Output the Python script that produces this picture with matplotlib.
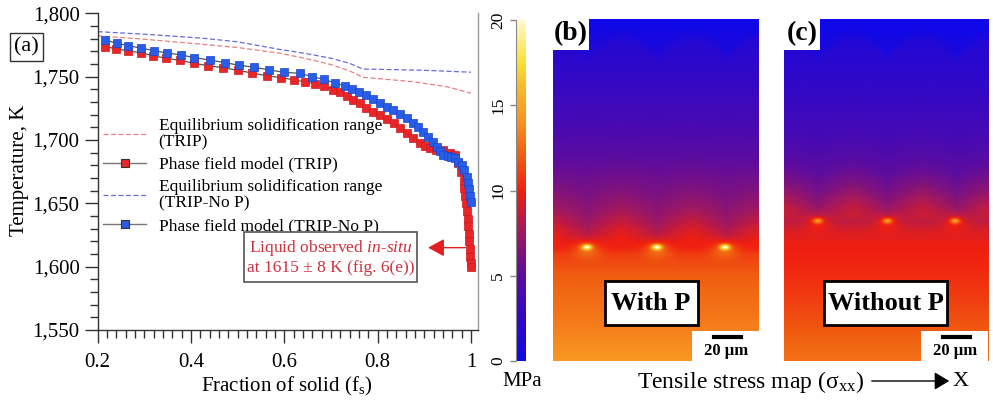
import matplotlib.pyplot as plt
import matplotlib.patches as mpatches
from matplotlib.lines import Line2D
from matplotlib.colors import LinearSegmentedColormap
from matplotlib.ticker import MultipleLocator, FuncFormatter
import numpy as np

plt.rcParams['font.family'] = ['Liberation Serif', 'DejaVu Serif']
plt.rcParams['mathtext.fontset'] = 'custom'
plt.rcParams['mathtext.rm'] = 'Liberation Serif'
plt.rcParams['mathtext.it'] = 'Liberation Serif:italic'
plt.rcParams['mathtext.bf'] = 'Liberation Serif:bold'

W, H = 993, 401

# ---- panel (a): solidification paths ----
eq_trip_fs = [0.2, 0.3, 0.41, 0.5, 0.59, 0.65, 0.7, 0.74, 0.768, 0.8, 0.876, 0.948, 1.0]
eq_trip_T = [1782.3, 1779.5, 1776, 1773, 1768.5, 1764, 1759.5, 1754.5, 1749.5, 1748.5, 1746, 1742, 1737]

eq_nop_fs = [0.2, 0.3, 0.42, 0.5, 0.59, 0.65, 0.7, 0.74, 0.768, 0.8, 0.9, 1.0]
eq_nop_T = [1785.5, 1783.5, 1780.5, 1777.5, 1771.5, 1768, 1764.5, 1760.5, 1756, 1755.8, 1755, 1753.5]

pf_trip_fs = [0.216, 0.239, 0.266, 0.292, 0.319, 0.346, 0.376, 0.407, 0.437, 0.468,
              0.500, 0.531, 0.562, 0.593, 0.621, 0.645, 0.665, 0.685, 0.705, 0.72,
              0.735, 0.748, 0.762, 0.776, 0.791, 0.805, 0.820, 0.834, 0.848, 0.862,
              0.876, 0.89, 0.902, 0.912, 0.925, 0.941, 0.955, 0.965, 0.973, 0.979,
              0.984, 0.986, 0.988, 0.990, 0.991, 0.993, 0.994, 0.995, 0.996, 0.997,
              0.998, 0.999, 1.0]
pf_trip_T = [1773.6, 1772.1, 1770.2, 1768.9, 1766.5, 1764.5, 1762.9, 1760.5, 1758.6, 1757.1,
             1755.0, 1752.9, 1750.7, 1749.2, 1747.4, 1745.8, 1744.5, 1742.8, 1739.5, 1737.5,
             1735, 1731.6, 1728.8, 1725.5, 1722.3, 1719.5, 1716.3, 1713.2, 1709.5, 1705.5,
             1701.3, 1697.5, 1695, 1693.4, 1692.4, 1692, 1690, 1688.5, 1682, 1675,
             1668, 1662, 1656, 1650, 1644, 1638, 1632, 1626, 1620, 1614,
             1608, 1603, 1600]

pf_nop_fs = [0.216, 0.241, 0.266, 0.292, 0.321, 0.348, 0.379, 0.407, 0.441, 0.473,
             0.503, 0.536, 0.567, 0.600, 0.634, 0.659, 0.684, 0.709, 0.73, 0.745,
             0.76, 0.776, 0.79, 0.805, 0.819, 0.833, 0.848, 0.862, 0.875, 0.887,
             0.898, 0.908, 0.918, 0.927, 0.934, 0.941, 0.950, 0.958, 0.966, 0.973,
             0.980, 0.986, 0.991, 0.994, 0.996, 0.998, 1.0]
pf_nop_T = [1778.9, 1776.3, 1774.4, 1772.6, 1770.5, 1768.7, 1767.1, 1765, 1763.1, 1761,
            1759, 1757.4, 1755.3, 1753.4, 1752.6, 1750, 1747.9, 1745, 1742.6, 1740.5,
            1738, 1735.5, 1732.5, 1729.5, 1726.3, 1723.3, 1720.2, 1717.1, 1713.5, 1710,
            1706.6, 1702.5, 1698.5, 1694.7, 1691, 1688.2, 1687, 1686.5, 1685.5, 1683,
            1680, 1676, 1671, 1666, 1661, 1656, 1651]

liquid_T = 1615

# ---- panels (b), (c): stress maps ----
cbar_ticks = [0, 5, 10, 15, 20]
cmap_values = [0, 2.5, 5, 7.5, 10, 12, 14, 16, 17.5, 20]
cmap_colors = ['#1008e8', '#3008c8', '#5c0ca0', '#a01860', '#f02010',
               '#f05c10', '#f89020', '#f8b828', '#fce030', '#fffad0']

depth_with_p = [0.0, 0.06, 0.15, 0.3, 0.4, 0.5, 0.55, 0.6, 0.635, 0.655, 0.667, 0.69, 0.75, 0.9, 1.0]
stress_with_p = [0.8, 1.6, 2.5, 3.8, 4.9, 6.0, 6.6, 7.4, 8.3, 9.2, 10.0, 11.0, 12.0, 13.3, 14.4]
depth_without_p = [0.0, 0.06, 0.2, 0.35, 0.45, 0.5, 0.54, 0.57, 0.59, 0.62, 0.66, 0.72, 0.8, 0.9, 1.0]
stress_without_p = [0.6, 1.4, 2.6, 3.8, 5.0, 5.8, 6.7, 7.6, 8.4, 9.3, 9.9, 10.2, 10.8, 11.8, 12.8]
spot_x = [0.165, 0.505, 0.835]
spot_depth_with_p = 0.667
spot_depth_without_p = 0.59


def fxy(px, py):
    return px / W, 1 - py / H


def stress_field(depth, stress, spot_depth, spot_amp, nx=206, ny=342):
    x = np.arange(nx) + 0.5
    y = np.arange(ny) + 0.5
    X, Y = np.meshgrid(x, y)
    base = np.interp(Y / ny, depth, stress)
    sx = np.array(spot_x) * nx
    period = sx[1] - sx[0]
    sy = spot_depth * ny
    d = np.abs((X - sx[0] + period / 2) % period - period / 2)
    u = sy - Y
    # red band rises between the spots -> V notch above each spot
    w = np.clip(d / (period / 2), 0, 1) ** 0.8
    up = np.clip(u, 0, None) / 16
    notch = 1.6 * w * up * np.exp(1 - up)
    # faint domes near the top
    dm = period / 2 - d
    arc_y = 16 + 24 * (dm / (period / 2)) ** 2
    top = -1.0 / (1 + np.exp((Y - arc_y) / 2.5))
    spots = np.zeros_like(X)
    for s in sx:
        spots += spot_amp * np.exp(-((X - s) ** 2 / (2 * 3.5 ** 2) + (Y - sy) ** 2 / (2 * 2.0 ** 2)))
        spots += 0.25 * spot_amp * np.exp(-((X - s) ** 2 / (2 * 9 ** 2) + (Y - sy - 2) ** 2 / (2 * 6 ** 2)))
    return np.clip(base + notch + top + spots, 0, 20)


fig = plt.figure(figsize=(W / 100, H / 100), dpi=100)

# ---------- (a) ----------
ax = fig.add_axes([97.7 / W, 1 - 330 / H, 380 / W, 316.7 / H])
ax.plot(eq_trip_fs, eq_trip_T, color='#e88080', ls=(0, (4, 2)), lw=0.9, zorder=2)
ax.plot(eq_nop_fs, eq_nop_T, color='#6a6ad8', ls=(0, (4, 2)), lw=0.9, zorder=2)
ax.plot(pf_trip_fs, pf_trip_T, color='#555555', lw=0.9, marker='s', ms=5.5,
        mfc='#e8262a', mec='#d01818', mew=0.5, zorder=3)
ax.plot(pf_nop_fs, pf_nop_T, color='#555555', lw=0.9, marker='s', ms=5.5,
        mfc='#2a5de6', mec='#1a44d0', mew=0.5, zorder=4)

ax.set_xlim(0.2, 1.0144)
ax.set_ylim(1550, 1800)
ax.xaxis.set_major_locator(MultipleLocator(0.2))
ax.xaxis.set_minor_locator(MultipleLocator(0.02))
ax.yaxis.set_major_locator(MultipleLocator(50))
ax.yaxis.set_minor_locator(MultipleLocator(10))
ax.xaxis.set_major_formatter(FuncFormatter(lambda v, p: '1' if abs(v - 1) < 1e-6 else f'{v:.1f}'))
ax.yaxis.set_major_formatter(FuncFormatter(lambda v, p: f'{v:,.0f}'))
ax.tick_params(axis='both', which='major', direction='out', length=9.5, width=1,
               color='#333333', labelsize=15)
ax.tick_params(axis='both', which='minor', direction='out', length=5.5, width=1, color='#333333')
ax.tick_params(axis='x', which='major', pad=7)
ax.tick_params(axis='y', which='major', pad=3.5)
ax.spines['top'].set_visible(False)
ax.spines['right'].set_color('#999999')
ax.spines['left'].set_color('#333333')
ax.spines['bottom'].set_color('#333333')
for s in ['left', 'bottom', 'right']:
    ax.spines[s].set_linewidth(1)

fig.text(*fxy(20, 170), 'Temperature, K', rotation=90, ha='center', va='center', fontsize=15)
fig.text(*fxy(287, 386), r'Fraction of solid (f$_\mathrm{s}$)', ha='center', va='center', fontsize=15)
fig.text(*fxy(26.5, 47), '(a)', ha='center', va='center', fontsize=16,
         bbox=dict(boxstyle='square,pad=0.2', facecolor='white', edgecolor='#333333', lw=1))

handles = [
    Line2D([], [], color='#e88080', ls=(0, (4, 2)), lw=0.9),
    Line2D([], [], color='#777777', lw=1, marker='s', ms=6, mfc='#e8262a', mec='#333333', mew=0.8),
    Line2D([], [], color='#6a6ad8', ls=(0, (4, 2)), lw=0.9),
    Line2D([], [], color='#777777', lw=1, marker='s', ms=6, mfc='#2a5de6', mec='#333333', mew=0.8),
]
labels = ['Equilibrium solidification range\n(TRIP)', 'Phase field model (TRIP)',
          'Equilibrium solidification range\n(TRIP-No P)', 'Phase field model (TRIP-No P)']
leg = ax.legend(handles, labels, loc='upper left', bbox_to_anchor=fxy(103, 118),
                bbox_transform=fig.transFigure, frameon=False, fontsize=12.5,
                handlelength=2.5, handletextpad=0.7, labelspacing=0.38,
                borderpad=0, borderaxespad=0)
for t in leg.get_texts():
    t.set_linespacing(1.0)

# in-situ annotation
box = mpatches.Rectangle(fxy(244, 282), 173 / W, 50 / H, transform=fig.transFigure,
                         facecolor='white', edgecolor='#555555', lw=1.2, zorder=5)
fig.add_artist(box)
fig.text(*fxy(331, 248), r'Liquid observed $\mathit{in}$-$\mathit{situ}$', ha='center', va='center',
         fontsize=12.5, color='#d0303c', zorder=6)
fig.text(*fxy(331, 268), 'at 1615 ± 8 K (fig. 6(e))', ha='center', va='center',
         fontsize=12.5, color='#d0303c', zorder=6)
ax.annotate('', xy=(0.908, liquid_T), xytext=(0.988, liquid_T),
            arrowprops=dict(arrowstyle='-|>,head_length=0.55,head_width=0.3', color='#e02020',
                            lw=1, mutation_scale=18, shrinkA=0, shrinkB=0), zorder=6)

# ---------- colormap + colorbar ----------
cmap = LinearSegmentedColormap.from_list(
    'stress', [(v / 20, c) for v, c in zip(cmap_values, cmap_colors)])

cax = fig.add_axes([516 / W, 1 - 361 / H, 10 / W, 341 / H])
grad = np.linspace(0, 20, 256).reshape(-1, 1)
cax.imshow(grad, cmap=cmap, vmin=0, vmax=20, origin='lower', aspect='auto', extent=(0, 1, 0, 20))
cax.set_xticks([])
cax.set_yticks(cbar_ticks)
cax.yaxis.set_ticks_position('left')
cax.tick_params(axis='y', length=4, width=1, color='#888888', pad=3, labelsize=12.5)
for lbl in cax.get_yticklabels():
    lbl.set_rotation(90)
    lbl.set_va('center')
for s in cax.spines.values():
    s.set_visible(False)
cax.spines['left'].set_visible(True)
cax.spines['left'].set_color('#888888')
fig.text(*fxy(522, 381), 'MPa', ha='center', va='center', fontsize=15)

# ---------- (b) and (c) ----------
panels = [
    (553, 206, depth_with_p, stress_with_p, spot_depth_with_p, 8.5, '(b)', 'With P', 651, 93),
    (784, 204, depth_without_p, stress_without_p, spot_depth_without_p, 5.0, '(c)', 'Without P', 885.5, 123),
]
for x0, w, dep, st, sdep, amp, tag, name, name_cx, name_w in panels:
    pax = fig.add_axes([x0 / W, 1 - 361 / H, w / W, 342 / H])
    field = stress_field(dep, st, sdep, amp, nx=w)
    pax.imshow(field, cmap=cmap, vmin=0, vmax=20, aspect='auto', interpolation='bilinear',
               extent=(0, w, 342, 0))
    pax.set_axis_off()

    # panel tag
    fig.add_artist(mpatches.Rectangle(fxy(x0, 50), 36 / W, 31 / H, transform=fig.transFigure,
                                      facecolor='white', edgecolor='none', zorder=5))
    fig.text(*fxy(x0 + 18, 34), tag, ha='center', va='center', fontsize=20,
             fontweight='bold', zorder=6)
    # name box
    fig.add_artist(mpatches.Rectangle(fxy(name_cx - name_w / 2, 325), name_w / W, 44 / H,
                                      transform=fig.transFigure, facecolor='white',
                                      edgecolor='black', lw=2, zorder=5))
    fig.text(*fxy(name_cx, 303), name, ha='center', va='center', fontsize=19,
             fontweight='bold', zorder=6)
    # scale bar
    right = x0 + w
    fig.add_artist(mpatches.Rectangle(fxy(right - 67, 361), 67 / W, 30 / H,
                                      transform=fig.transFigure, facecolor='white',
                                      edgecolor='none', zorder=5))
    fig.add_artist(Line2D([(right - 45) / W, (right - 18) / W], [1 - 337 / H, 1 - 337 / H],
                          transform=fig.transFigure, color='black', lw=3, zorder=6))
    fig.text(*fxy(right - 33, 351), '20 μm', ha='center', va='center', fontsize=12,
             fontweight='bold', zorder=6)

fig.text(*fxy(637, 382), r'Tensile stress map ($\mathrm{σ}_{\mathrm{xx}}$)', ha='left',
         va='center', fontsize=17)
fig.add_artist(mpatches.FancyArrowPatch(fxy(869, 381), fxy(952, 381), transform=fig.transFigure,
                                        arrowstyle='-|>,head_length=0.5,head_width=0.3',
                                        mutation_scale=18, color='black', lw=1))
fig.text(*fxy(953, 382), 'X', ha='left', va='center', fontsize=16)

fig.savefig('out.png', dpi=100)
